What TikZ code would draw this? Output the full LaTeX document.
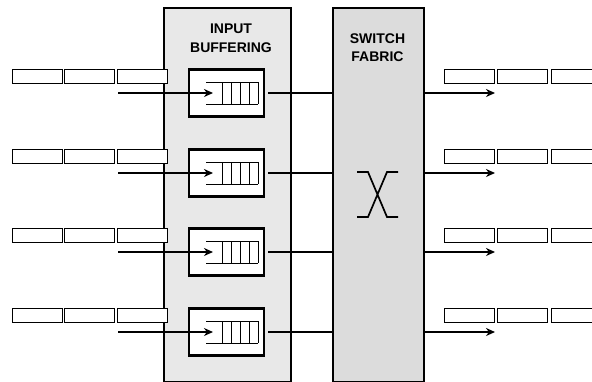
\documentclass[tikz,border=0pt]{standalone}
\usepackage{fontspec}
\setmainfont{Liberation Sans}[BoldFont={Liberation Sans Bold}]
\usetikzlibrary{arrows.meta}
\definecolor{inbuf}{RGB}{232,232,232}
\definecolor{swf}{RGB}{220,220,220}
\begin{document}
\begin{tikzpicture}[x=1pt,y=-1pt,
 bigbox/.style={draw,line width=2pt,anchor=north west,inner sep=0pt},
 cell/.style={draw,line width=1pt,fill=white,minimum width=50pt,minimum height=14pt,inner sep=0pt},
 qbox/.style={draw,line width=2.4pt,fill=white,minimum width=75pt,minimum height=47pt,inner sep=0pt},
 conn/.style={line width=2.2pt},
 arr/.style={line width=2.2pt,-{Stealth[length=9pt,width=8pt]}},
 qline/.style={line width=1pt},
 xline/.style={line width=1.7pt},
 lbl/.style={font=\fontsize{14}{19}\selectfont\bfseries,anchor=base,inner sep=0pt}]
\useasboundingbox (0,0) rectangle (592,381);
\node[bigbox,fill=inbuf,minimum width=127pt,minimum height=374pt] (ib) at (163,7) {};
\node[bigbox,fill=swf,minimum width=91pt,minimum height=374pt] (sf) at (332,7) {};
\node[lbl] (ib1) at (231,33) {INPUT};
\node[lbl] (ib2) at (231,52) {BUFFERING};
\node[lbl] (sf1) at (377.5,43) {SWITCH};
\node[lbl] (sf2) at (377.5,61) {FABRIC};
\foreach \i/\y in {1/93,2/173,3/252,4/332}{
 \node[cell] (la\i) at (37,\y-17) {};
 \node[cell] (lb\i) at (89.5,\y-17) {};
 \node[cell] (lc\i) at (142,\y-17) {};
 \node[qbox] (q\i) at (226.5,\y) {};
 \draw[qline] (206,\y-11) -- (258,\y-11) (206,\y+11) -- (258,\y+11);
 \foreach \x in {222,231,240,249,258}{\draw[qline] (\x,\y-11) -- (\x,\y+11);}
 \coordinate (s\i) at (118,\y);
 \coordinate (qi\i) at (213,\y);
 \draw[arr] (s\i) -- (qi\i);
 \draw[conn,shorten <=3pt] (q\i.east) -- (q\i.east -| sf.west);
 \coordinate (o\i) at (495,\y);
 \draw[arr] (q\i.east -| sf.east) -- (o\i);
 \node[cell] (ra\i) at (469,\y-17) {};
 \node[cell] (rb\i) at (522.5,\y-17) {};
 \node[cell] (rc\i) at (576,\y-17) {};
}
\draw[xline] (357,172) -- (368,172) -- (387,217) -- (398,217)
             (357,217) -- (368,217) -- (387,172) -- (398,172);
\end{tikzpicture}
\end{document}
